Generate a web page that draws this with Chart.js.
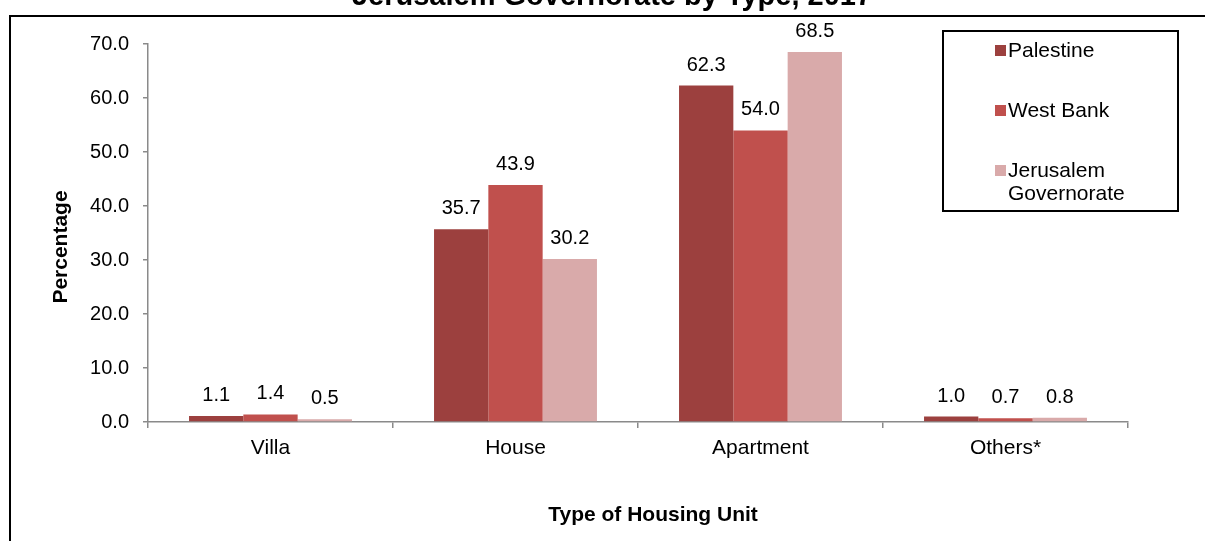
<!DOCTYPE html>
<html>
<head>
<meta charset="utf-8">
<script src="https://cdn.jsdelivr.net/npm/chart.js@4.4.1/dist/chart.umd.min.js"></script>
<style>
  html, body { margin: 0; padding: 0; background: #fff; }
  #wrap { width: 1205px; height: 541px; }
</style>
</head>
<body>
<div id="wrap"><canvas id="chart" width="1205" height="541"></canvas></div>
<script>
// --------------------
// Data
// --------------------
const categories = ['Villa', 'House', 'Apartment', 'Others*'];
const seriesNames = ['Palestine', 'West Bank', 'Jerusalem Governorate'];
const palestine = [1.1, 35.7, 62.3, 1.0];
const westBank = [1.4, 43.9, 54.0, 0.7];
const jerusalem = [0.5, 30.2, 68.5, 0.8];
const yTicks = [0, 10, 20, 30, 40, 50, 60, 70];

const TITLE = 'Jerusalem Governorate by Type, 2017';
const X_TITLE = 'Type of Housing Unit';
const Y_TITLE = 'Percentage';

const COLORS = ['#9C403E', '#C0504D', '#D9AAAA'];
const FONT = '"Liberation Sans", Arial, sans-serif';
const AXIS_GREY = '#8a8a8a';

// frame, cut title and axis titles
const framePlugin = {
    id: 'frame',
    beforeDraw(chart) {
        const ctx = chart.ctx;
        ctx.save();
        ctx.strokeStyle = '#000';
        ctx.lineWidth = 2;
        ctx.beginPath();
        ctx.moveTo(10, 541);
        ctx.lineTo(10, 16);
        ctx.lineTo(1205, 16);
        ctx.stroke();

        ctx.fillStyle = '#000';
        ctx.font = 'bold 29px ' + FONT;
        ctx.textAlign = 'center';
        ctx.textBaseline = 'alphabetic';
        ctx.fillText(TITLE, 612, 5);

        ctx.font = 'bold 21px ' + FONT;
        ctx.textBaseline = 'middle';
        ctx.fillText(X_TITLE, 653, 515);

        ctx.translate(61, 247);
        ctx.rotate(-Math.PI / 2);
        ctx.fillText(Y_TITLE, 0, 0);
        ctx.restore();
    }
};

// value labels above bars
const valueLabels = {
    id: 'valueLabels',
    afterDatasetsDraw(chart) {
        const ctx = chart.ctx;
        ctx.save();
        ctx.fillStyle = '#000';
        ctx.font = '20px ' + FONT;
        ctx.textAlign = 'center';
        ctx.textBaseline = 'alphabetic';
        chart.data.datasets.forEach((ds, i) => {
            chart.getDatasetMeta(i).data.forEach((bar, j) => {
                ctx.fillText(ds.data[j].toFixed(1), bar.x, bar.y - 15);
            });
        });
        ctx.restore();
    }
};

// boxed legend in the top right corner
const boxLegend = {
    id: 'boxLegend',
    afterDraw(chart) {
        const ctx = chart.ctx;
        const box = { x: 943, y: 31, w: 235, h: 180 };
        ctx.save();
        ctx.strokeStyle = '#000';
        ctx.lineWidth = 2;
        ctx.strokeRect(box.x, box.y, box.w, box.h);
        ctx.font = '21px ' + FONT;
        ctx.textBaseline = 'middle';
        ctx.textAlign = 'left';
        chart.data.datasets.forEach((ds, i) => {
            const cy = 50 + i * 60;
            ctx.fillStyle = ds.backgroundColor;
            ctx.fillRect(995, cy - 5, 11, 11);
            // wrap long names
            let lines = [ds.label];
            if (ctx.measureText(ds.label).width > 150) lines = ds.label.split(' ');
            ctx.fillStyle = '#000';
            lines.forEach((line, k) => {
                ctx.fillText(line, 1008, cy + 1 + k * 23);
            });
        });
        ctx.restore();
    }
};

const datasets = [palestine, westBank, jerusalem].map((values, i) => ({
    label: seriesNames[i],
    data: values,
    backgroundColor: COLORS[i],
    borderWidth: 0,
    categoryPercentage: 0.665,
    barPercentage: 1.0
}));

new Chart(document.getElementById('chart'), {
    type: 'bar',
    data: { labels: categories, datasets: datasets },
    options: {
        responsive: false,
        animation: false,
        layout: { padding: { top: 44, right: 77, bottom: 0, left: 0 } },
        plugins: {
            legend: { display: false },
            title: { display: false },
            tooltip: { enabled: false }
        },
        scales: {
            x: {
                grid: {
                    offset: true,
                    drawOnChartArea: false,
                    drawTicks: true,
                    tickLength: 6,
                    color: AXIS_GREY,
                    lineWidth: 1.5
                },
                border: { color: AXIS_GREY, width: 1.5 },
                ticks: { color: '#000', font: { family: FONT, size: 21 }, padding: 8 },
                afterFit(scale) { scale.height = 119; }
            },
            y: {
                min: 0,
                max: 70,
                afterBuildTicks(scale) { scale.ticks = yTicks.map(v => ({ value: v })); },
                grid: {
                    drawOnChartArea: false,
                    drawTicks: true,
                    tickLength: 5,
                    color: AXIS_GREY,
                    lineWidth: 1.5
                },
                border: { color: AXIS_GREY, width: 1.5 },
                ticks: {
                    color: '#000',
                    font: { family: FONT, size: 20 },
                    padding: 14,
                    callback: (v) => Number(v).toFixed(1)
                },
                afterFit(scale) { scale.width = 148; }
            }
        }
    },
    plugins: [framePlugin, valueLabels, boxLegend]
});
</script>
</body>
</html>
